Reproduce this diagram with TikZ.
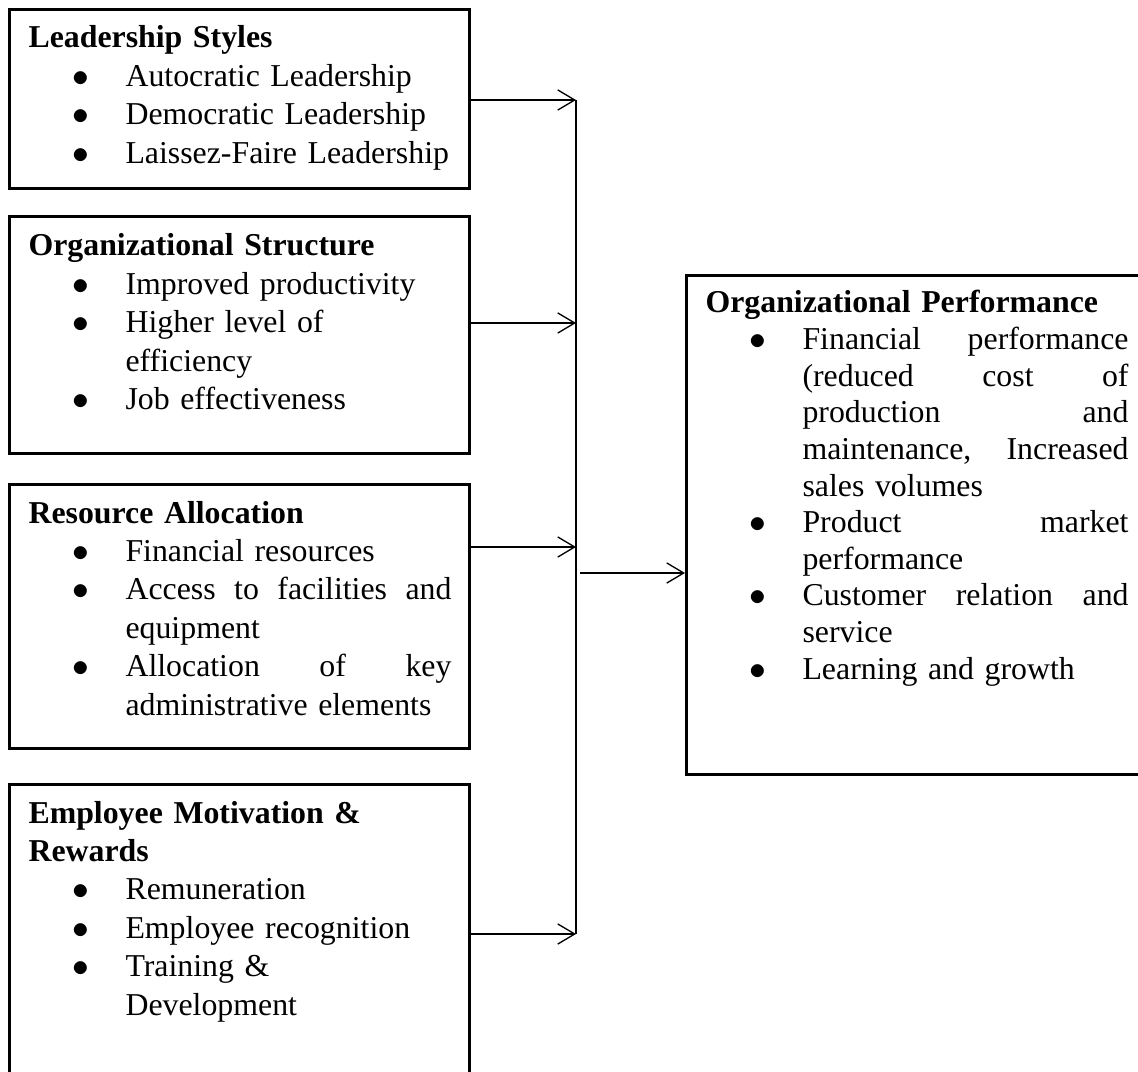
\documentclass[tikz,border=0pt]{standalone}
\usepackage{fontspec}
\setmainfont{Liberation Serif}
\usepackage{tikz}
\usetikzlibrary{arrows.meta}
\usetikzlibrary{calc}

\newdimen\px
\px=0.377pt

\tikzset{>={Straight Barb[length=6.4pt,width=7.6pt]}}
\tikzset{
    factor/.style={draw, line width=1pt, inner sep=0pt, anchor=north west, minimum width=460\px},
    boxtext/.style={anchor=base west, inner sep=0pt, text width=423\px, font=\fontsize{12}{14.5}\selectfont},
    link/.style={->, line width=0.5pt},
    bus/.style={line width=0.6pt}
}

\newenvironment{bullets}{%
    \begin{list}{\scalebox{1.05}{$\bullet$}}{%
        \setlength{\leftmargin}{97\px}\setlength{\labelsep}{36\px}%
        \setlength{\labelwidth}{20\px}\setlength{\itemindent}{0pt}%
        \setlength{\topsep}{0pt}\setlength{\partopsep}{0pt}%
        \setlength{\itemsep}{0pt}\setlength{\parsep}{0pt}}}%
    {\end{list}}

\begin{document}
\begin{tikzpicture}[x=0.377pt, y=-0.377pt]
    \useasboundingbox (0,0) rectangle (1138,1072);
    \clip (0,0) rectangle (1138,1072);

    % Boxes
    \node[factor, minimum height=179\px] (lead) at (8,8) {};
    \node[factor, minimum height=237\px] (struc) at (8,215) {};
    \node[factor, minimum height=264\px] (res) at (8,483) {};
    \node[factor, minimum height=320\px] (motiv) at (8,783) {};
    \node[factor, minimum width=500\px, minimum height=499\px] (perf) at (685,274) {};

    % Texts
    \node[boxtext] (leadtxt) at ($(lead.north west)+(20,40)$) {\textbf{Leadership Styles}
        \begin{bullets}
        \item Autocratic Leadership
        \item Democratic Leadership
        \item Laissez-Faire Leadership
        \end{bullets}};

    \node[boxtext] (structxt) at ($(struc.north west)+(20,41)$) {\textbf{Organizational Structure}
        \begin{bullets}
        \item Improved productivity
        \item Higher level of\\ efficiency
        \item Job effectiveness
        \end{bullets}};

    \node[boxtext] (restxt) at ($(res.north west)+(20,40)$) {\textbf{Resource Allocation}
        \begin{bullets}
        \item Financial resources
        \item Access\hfill to\hfill facilities\hfill and\\ equipment
        \item Allocation\hfill of\hfill key\\ administrative elements
        \end{bullets}};

    \node[boxtext] (motivtxt) at ($(motiv.north west)+(20,40)$) {\textbf{Employee Motivation \&\\ Rewards}
        \begin{bullets}
        \item Remuneration
        \item Employee recognition
        \item Training \&\\ Development
        \end{bullets}};

    \node[boxtext, font=\fontsize{12}{13.8}\selectfont] (perftxt) at ($(perf.north west)+(20,39)$) {\textbf{Organizational Performance}
        \begin{bullets}
        \item Financial\hfill performance\\ (reduced\hfill cost\hfill of\\ production\hfill and\\ maintenance,\hfill Increased\\ sales volumes
        \item Product\hfill market\\ performance
        \item Customer\hfill relation\hfill and\\ service
        \item Learning and growth
        \end{bullets}};

    % Bus line
    \coordinate (b1) at (576,100);
    \coordinate (b2) at (576,323);
    \coordinate (b3) at (576,547);
    \coordinate (b4) at (576,934);
    \coordinate (bm) at (580,573);
    \draw[bus] (b1) -- (b4);

    % Arrows
    \draw[link] (b1 -| lead.east) -- (b1);
    \draw[link] (b2 -| struc.east) -- (b2);
    \draw[link] (b3 -| res.east) -- (b3);
    \draw[link] (b4 -| motiv.east) -- (b4);
    \draw[link] (bm) -- (bm -| perf.west);
\end{tikzpicture}
\end{document}
